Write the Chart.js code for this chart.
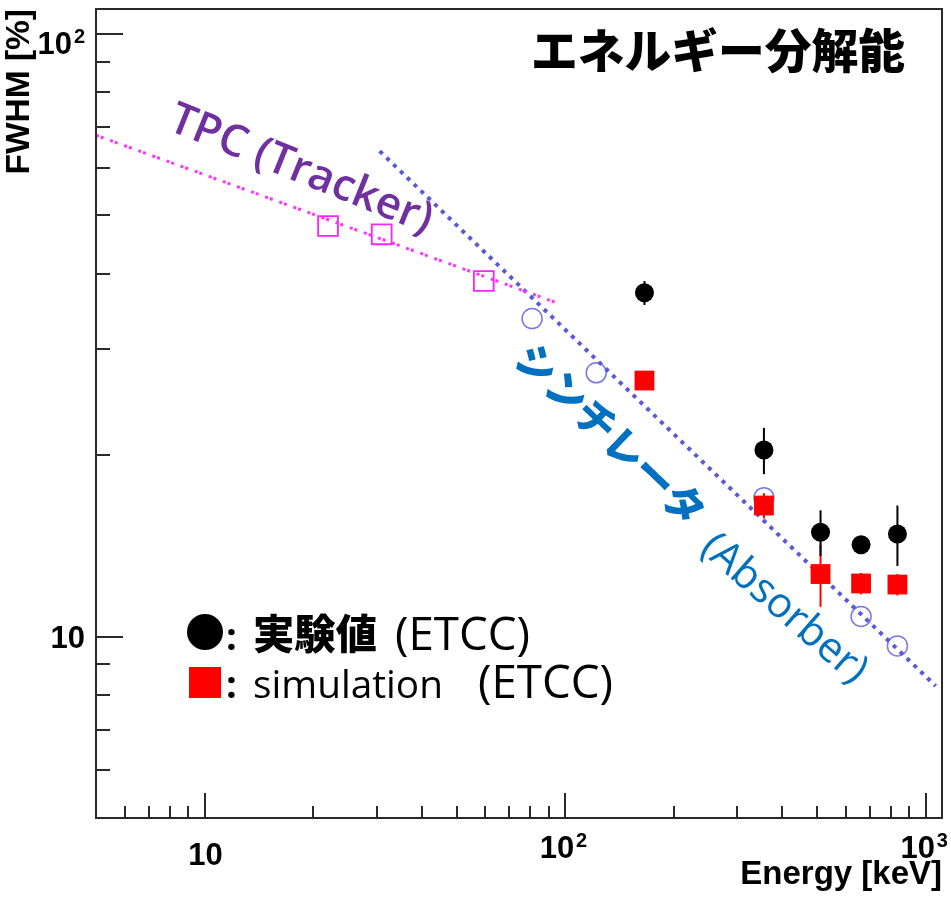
<!DOCTYPE html>
<html>
<head>
<meta charset="utf-8">
<script src="https://cdn.jsdelivr.net/npm/chart.js@4.4.1/dist/chart.umd.min.js"></script>
<style>
  html, body { margin: 0; padding: 0; background: #ffffff; }
  #wrap { width: 951px; height: 908px; position: relative; overflow: hidden; }
</style>
</head>
<body>
<div id="wrap"><canvas id="chart" width="951" height="908"></canvas></div>
<script>
// ETCC energy resolution (FWHM) vs. gamma-ray energy
const etccEnergies   = [166, 356, 511, 662, 835];        // keV
const measuredFWHM   = [37.2, 20.4, 14.9, 14.2, 14.8];   // %
const measuredErr    = [1.7, 1.8, 1.3, 0.3, 1.7];
const simulatedFWHM  = [26.6, 16.5, 12.7, 12.25, 12.2];
const simulatedErr   = [0, 0.8, 1.5, 0.5, 0.5];

// Tracker (TPC) and absorber (scintillator) alone
const tpcEnergies    = [22, 31, 59.5];
const tpcFWHM        = [48.0, 46.5, 38.9];
const scintEnergies  = [81, 122, 356, 662, 835];
const scintFWHM      = [33.7, 27.4, 17.0, 10.8, 9.65];

// Power-law trend lines (end points)
const tpcTrendE      = [5, 96];
const tpcTrendFWHM   = [67.9, 35.7];
const scintTrendE    = [30.6, 1066];
const scintTrendFWHM = [63.9, 8.28];

// Axis ticks: decades carry a label, the rest are minor marks
const xTickValues = [6, 7, 8, 9, 10, 20, 30, 40, 50, 60, 70, 80, 90, 100,
                     200, 300, 400, 500, 600, 700, 800, 900, 1000];
const yTickValues = [6, 7, 8, 9, 10, 20, 30, 40, 50, 60, 70, 80, 90, 100];
const decadeLabels = { 10: ['10', ''], 100: ['10', '2'], 1000: ['10', '3'] };

const pts = (xs, ys) => xs.map((x, i) => ({ x: x, y: ys[i] }));

const AXIS_FONT = '"Liberation Sans", Arial, Helvetica, sans-serif';
const CJK_FONT = '"Noto Sans CJK JP", "Noto Sans CJK SC", sans-serif';
const HAND_FONT = '"Open Sans", "Noto Sans", sans-serif';

// vertical error bars, drawn beneath the markers
const errorBars = {
  id: 'errorBars',
  beforeDatasetsDraw(chart) {
    const { ctx, scales: { x, y } } = chart;
    chart.data.datasets.forEach((ds) => {
      if (!ds.yErr) return;
      ctx.save();
      ctx.strokeStyle = ds.errColor;
      ctx.lineWidth = 2;
      ds.data.forEach((p, i) => {
        const e = ds.yErr[i];
        if (!e) return;
        const px = x.getPixelForValue(p.x);
        ctx.beginPath();
        ctx.moveTo(px, y.getPixelForValue(p.y + e));
        ctx.lineTo(px, y.getPixelForValue(p.y - e));
        ctx.stroke();
      });
      ctx.restore();
    });
  }
};

// frame, inward tick marks and decade labels (10, 10^2, 10^3)
const frameTicks = {
  id: 'frameTicks',
  afterDatasetsDraw(chart) {
    const { ctx, chartArea: a, scales: { x, y } } = chart;
    ctx.save();
    ctx.strokeStyle = '#2a2a2a';
    ctx.lineWidth = 2;
    ctx.strokeRect(a.left, a.top, a.right - a.left, a.bottom - a.top);
    ctx.beginPath();
    x.ticks.forEach((t) => {
      const px = Math.round(x.getPixelForValue(t.value));
      const len = decadeLabels[t.value] ? 25 : 12;
      ctx.moveTo(px, a.bottom);
      ctx.lineTo(px, a.bottom - len);
    });
    y.ticks.forEach((t) => {
      const py = Math.round(y.getPixelForValue(t.value));
      const len = decadeLabels[t.value] ? 27 : 14;
      ctx.moveTo(a.left, py);
      ctx.lineTo(a.left + len, py);
    });
    ctx.stroke();

    const baseFont = `bold 31px ${AXIS_FONT}`;
    const expFont = `bold 20px ${AXIS_FONT}`;
    ctx.fillStyle = '#000000';
    ctx.textBaseline = 'alphabetic';

    x.ticks.forEach((t) => {
      const lab = decadeLabels[t.value];
      if (!lab) return;
      const px = x.getPixelForValue(t.value);
      ctx.font = baseFont;
      ctx.textAlign = 'center';
      if (!lab[1]) {
        ctx.fillText(lab[0], px + 1, a.bottom + 47);
      } else {
        ctx.fillText(lab[0], px - 8, a.bottom + 40);
        ctx.font = expFont;
        ctx.textAlign = 'left';
        ctx.fillText(lab[1], px + 11, a.bottom + 29);
      }
    });

    y.ticks.forEach((t) => {
      const lab = decadeLabels[t.value];
      if (!lab) return;
      const py = y.getPixelForValue(t.value);
      ctx.textAlign = 'right';
      if (!lab[1]) {
        ctx.font = baseFont;
        ctx.fillText(lab[0], a.left - 11, py + 11);
      } else {
        ctx.font = expFont;
        ctx.fillText(lab[1], a.left - 11, py + 9);
        ctx.font = baseFont;
        ctx.fillText(lab[0], a.left - 24, py + 20);
      }
    });
    ctx.restore();
  }
};

function sizeFor(ctx, text, weight, family, width) {
  ctx.font = `${weight} 100px ${family}`;
  return 100 * width / ctx.measureText(text).width;
}

function rotatedText(ctx, text, cx, cy, deg, weight, family, width, color) {
  const fs = sizeFor(ctx, text, weight, family, width);
  ctx.save();
  ctx.translate(cx, cy);
  ctx.rotate(deg * Math.PI / 180);
  ctx.font = `${weight} ${fs}px ${family}`;
  ctx.fillStyle = color;
  ctx.textAlign = 'center';
  ctx.textBaseline = 'middle';
  ctx.fillText(text, 0, 0);
  ctx.restore();
}

function fittedText(ctx, text, left, baseline, weight, family, width) {
  const fs = sizeFor(ctx, text, weight, family, width);
  ctx.font = `${weight} ${fs}px ${family}`;
  ctx.fillText(text, left, baseline);
}

// title, labels for the two detector parts, and the marker key
const annotations = {
  id: 'annotations',
  afterDraw(chart) {
    const ctx = chart.ctx;
    ctx.save();

    ctx.fillStyle = '#000000';
    ctx.textAlign = 'left';
    ctx.textBaseline = 'middle';
    fittedText(ctx, 'エネルギー分解能', 531, 50, '900', CJK_FONT, 374);

    rotatedText(ctx, 'TPC (Tracker)', 301, 170, 22, '600', HAND_FONT, 280, '#7030a0');
    rotatedText(ctx, 'シンチレータ', 611, 434, 43.5, '900', CJK_FONT, 244, '#0070c0');
    rotatedText(ctx, '(Absorber)', 784, 609, 41, '500', HAND_FONT, 205, '#0070c0');

    // key
    ctx.fillStyle = '#000000';
    ctx.beginPath();
    ctx.arc(205, 632, 18, 0, Math.PI * 2);
    ctx.fill();
    ctx.fillStyle = '#ff0000';
    ctx.fillRect(189, 667, 32, 31);

    ctx.fillStyle = '#000000';
    ctx.textAlign = 'left';
    ctx.textBaseline = 'alphabetic';
    ctx.font = `bold 38px ${HAND_FONT}`;
    ctx.fillText(':', 226, 650);
    ctx.fillText(':', 226, 698);
    fittedText(ctx, '実験値', 253, 649, '900', CJK_FONT, 124);
    fittedText(ctx, '(ETCC)', 395, 650, '500', HAND_FONT, 135);
    fittedText(ctx, 'simulation', 253, 698, '500', HAND_FONT, 190);
    fittedText(ctx, '(ETCC)', 478, 698, '500', HAND_FONT, 135);

    ctx.restore();
  }
};

new Chart(document.getElementById('chart'), {
  type: 'scatter',
  data: {
    datasets: [
      {
        label: 'simulation (ETCC)',
        data: pts(etccEnergies, simulatedFWHM),
        yErr: simulatedErr, errColor: '#ff0000',
        pointStyle: 'rect', pointRadius: 14, pointHoverRadius: 14,
        backgroundColor: '#ff0000', borderColor: '#ff0000', borderWidth: 0,
        order: 0
      },
      {
        label: '実験値 (ETCC)',
        data: pts(etccEnergies, measuredFWHM),
        yErr: measuredErr, errColor: '#000000',
        pointStyle: 'circle', pointRadius: 9.5, pointHoverRadius: 9.5,
        backgroundColor: '#000000', borderColor: '#000000', borderWidth: 0,
        order: 1
      },
      {
        label: 'TPC trend',
        data: pts(tpcTrendE, tpcTrendFWHM),
        showLine: true, pointRadius: 0, pointHoverRadius: 0,
        borderColor: '#ff33ff', borderWidth: 3, borderDash: [3, 2, 3, 7],
        order: 2
      },
      {
        label: 'Scintillator trend',
        data: pts(scintTrendE, scintTrendFWHM),
        showLine: true, pointRadius: 0, pointHoverRadius: 0,
        borderColor: '#5a5ad8', borderWidth: 4, borderDash: [4, 5.5],
        order: 2
      },
      {
        label: 'TPC (Tracker)',
        data: pts(tpcEnergies, tpcFWHM),
        pointStyle: 'rect', pointRadius: 14, pointHoverRadius: 14,
        backgroundColor: 'rgba(0,0,0,0)', borderColor: '#ff22ff', borderWidth: 1.8,
        order: 3
      },
      {
        label: 'Scintillator (Absorber)',
        data: pts(scintEnergies, scintFWHM),
        pointStyle: 'circle', pointRadius: 10, pointHoverRadius: 10,
        backgroundColor: 'rgba(0,0,0,0)', borderColor: '#7878ea', borderWidth: 1.5,
        order: 3
      }
    ]
  },
  options: {
    responsive: false,
    animation: false,
    devicePixelRatio: 1,
    events: [],
    layout: { autoPadding: false, padding: { left: 0, top: 9, right: 9, bottom: 0 } },
    plugins: { legend: { display: false }, tooltip: { enabled: false } },
    scales: {
      x: {
        type: 'logarithmic',
        position: 'bottom',
        min: 5, max: 1110,
        afterBuildTicks: (s) => { s.ticks = xTickValues.map((v) => ({ value: v })); },
        afterFit: (s) => { s.height = 90; s.paddingLeft = 0; s.paddingRight = 0; },
        grid: { display: false, drawTicks: false },
        border: { display: false },
        ticks: { display: false },
        title: {
          display: true, text: 'Energy [keV]', align: 'end', color: '#000000',
          font: { family: AXIS_FONT, weight: 'bold', size: 33 },
          padding: { top: 0, bottom: 13 }
        }
      },
      y: {
        type: 'logarithmic',
        position: 'left',
        min: 5, max: 110,
        afterBuildTicks: (s) => { s.ticks = yTickValues.map((v) => ({ value: v })); },
        afterFit: (s) => { s.width = 96; s.paddingTop = 0; s.paddingBottom = 0; },
        grid: { display: false, drawTicks: false },
        border: { display: false },
        ticks: { display: false },
        title: {
          display: true, text: 'FWHM [%]', align: 'end', color: '#000000',
          font: { family: AXIS_FONT, weight: 'bold', size: 33.5 },
          padding: { top: 0, bottom: 0 }
        }
      }
    }
  },
  plugins: [errorBars, frameTicks, annotations]
});
</script>
</body>
</html>
